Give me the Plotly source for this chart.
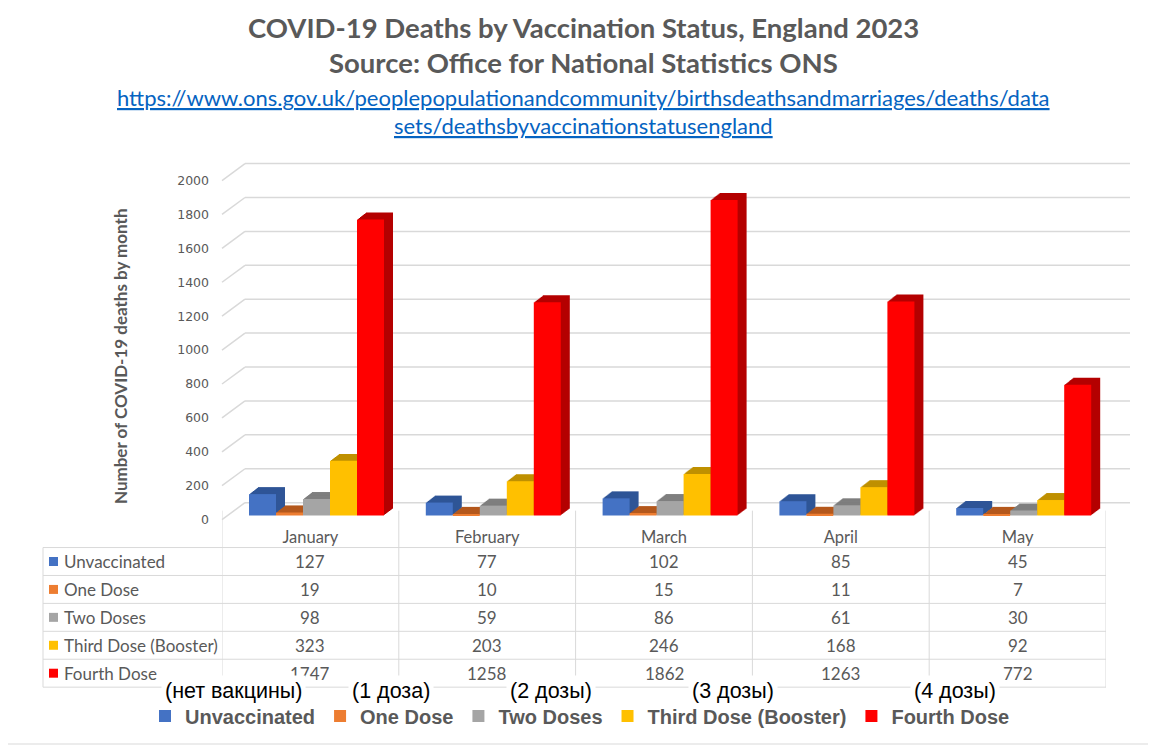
import plotly.graph_objects as go

# ---------------- data ----------------
months = ["January", "February", "March", "April", "May"]
series_names = ["Unvaccinated", "One Dose", "Two Doses", "Third Dose (Booster)", "Fourth Dose"]
unvaccinated = [127, 77, 102, 85, 45]
one_dose = [19, 10, 15, 11, 7]
two_doses = [98, 59, 86, 61, 30]
third_dose = [323, 203, 246, 168, 92]
fourth_dose = [1747, 1258, 1862, 1263, 772]
y_ticks = [0, 200, 400, 600, 800, 1000, 1200, 1400, 1600, 1800, 2000]
ru_labels = ["(нет вакцины)", "(1 доза)", "(2 дозы)", "(3 дозы)", "(4 дозы)"]

series_values = [unvaccinated, one_dose, two_doses, third_dose, fourth_dose]

# ---------------- styling ----------------
front_colors = ["#4472C4", "#ED7D31", "#A5A5A5", "#FFC000", "#FF0000"]
side_colors = ["#2F5597", "#B4581C", "#7F7F7F", "#BF9000", "#B40000"]
GRAY = "#595959"
GRID = "#D9D9D9"

# page body offset compensation (figure is drawn at 8,8 in the window)
OX, OY = 8, 8
FW, FH = 1156 - OX, 750 - OY
PLOT_L, PLOT_R = 222, 1106
Y0_PX = 521
PPU = 0.17                      # pixels per data unit (y)
Y_MIN, Y_MAX = -30, 2110
dom_bottom_px = Y0_PX - Y_MIN * PPU
dom_top_px = Y0_PX - Y_MAX * PPU
CAT_PX = (PLOT_R - PLOT_L) / len(months)
BAR_PX = 27
FRONT_LIFT_PX = 4
DEPTH_X_PX, DEPTH_Y_PX, LAYERS = 9, 7, 9
BACK_X0_PX, BACK_X1_PX, BACK_LIFT = 245, 1130, 100


def px_x(p):
    return (p - OX) / FW


def px_y(p):
    return 1 - (p - OY) / FH


fig = go.Figure()

for i, (name, vals) in enumerate(zip(series_names, series_values)):
    off0 = -0.5 + (BAR_PX + BAR_PX * i) / CAT_PX
    width = BAR_PX / CAT_PX
    base0 = FRONT_LIFT_PX / PPU
    for k in range(LAYERS, 0, -1):
        fig.add_trace(go.Bar(
            x=months, y=vals, width=width,
            offset=off0 + k * (DEPTH_X_PX / LAYERS) / CAT_PX,
            base=base0 + k * (DEPTH_Y_PX / LAYERS) / PPU,
            marker=dict(color=side_colors[i], line=dict(width=0)),
            showlegend=False, hoverinfo="skip",
        ))
    fig.add_trace(go.Bar(
        x=months, y=vals, width=width, offset=off0, base=base0,
        name=name, marker=dict(color=front_colors[i], line=dict(width=0)),
        hovertemplate="%{x}: %{y}<extra>" + name + "</extra>",
    ))

shapes = []
# 3D style gridlines (side wall diagonal + back wall line)
for v in y_ticks:
    shapes.append(dict(type="line", xref="paper", yref="y", layer="below",
                       x0=px_x(PLOT_L), x1=px_x(BACK_X0_PX), y0=v, y1=v + BACK_LIFT,
                       line=dict(color=GRID, width=1.5)))
    shapes.append(dict(type="line", xref="paper", yref="y", layer="below",
                       x0=px_x(BACK_X0_PX), x1=px_x(BACK_X1_PX), y0=v + BACK_LIFT, y1=v + BACK_LIFT,
                       line=dict(color=GRID, width=1.5)))

# data table grid
TAB_L = 43
row_lines = [549, 577, 605, 633, 661, 689]
for yy in row_lines:
    shapes.append(dict(type="line", xref="paper", yref="paper",
                       x0=px_x(TAB_L), x1=px_x(PLOT_R), y0=px_y(yy), y1=px_y(yy),
                       line=dict(color=GRID, width=1)))
shapes.append(dict(type="line", xref="paper", yref="paper",
                   x0=px_x(TAB_L), x1=px_x(TAB_L), y0=px_y(549), y1=px_y(689),
                   line=dict(color=GRID, width=1)))
for j in range(len(months) + 1):
    shapes.append(dict(type="line", xref="x", yref="paper",
                       x0=j - 0.5, x1=j - 0.5, y0=px_y(512), y1=px_y(689),
                       line=dict(color=GRID, width=1)))
# legend keys in table
row_centers = [563, 591, 619, 647, 675]
for i, c in enumerate(front_colors):
    shapes.append(dict(type="rect", xref="paper", yref="paper",
                       x0=px_x(49), x1=px_x(58), y0=px_y(row_centers[i] + 4.5), y1=px_y(row_centers[i] - 4.5),
                       fillcolor=c, line=dict(width=0)))
# outer bottom border
shapes.append(dict(type="line", xref="paper", yref="paper", x0=0, x1=1, y0=px_y(746), y1=px_y(746),
                   line=dict(color=GRID, width=1)))

annotations = []
TITLE_FONT = "Lato"


def ann(text, x, y, size, color, family=TITLE_FONT, **kw):
    d = dict(text=text, x=x, y=y, xref="paper", yref="paper", showarrow=False,
             xanchor="center", yanchor="middle",
             font=dict(family=family, size=size, color=color))
    d.update(kw)
    return d


annotations.append(ann("<b>COVID-19 Deaths by Vaccination Status, England 2023</b>",
                       px_x(583), px_y(28), 27.5, GRAY))
annotations.append(ann("<b>Source: Office for National Statistics ONS</b>",
                       px_x(583), px_y(63), 27.5, GRAY))
url1 = "https://www.ons.gov.uk/peoplepopulationandcommunity/birthsdeathsandmarriages/deaths/data"
url2 = "sets/deathsbyvaccinationstatusengland"
for txt, yy in [(url1, 98), (url2, 126)]:
    annotations.append(ann('<span style="text-decoration:underline">' + txt + '</span>',
                           px_x(583), px_y(yy), 22, "#0563C1"))

# y axis title
annotations.append(ann("<b>Number of COVID-19 deaths by month</b>", px_x(120), px_y(357), 17, GRAY,
                       textangle=-90))

# table row labels and values
for i, (name, vals) in enumerate(zip(series_names, series_values)):
    annotations.append(ann(name, px_x(62), px_y(row_centers[i]), 17, GRAY, xanchor="left"))
    for m, v in zip(months, vals):
        annotations.append(ann(str(v), m, px_y(row_centers[i]), 17, GRAY, xref="x"))

# Russian overlay labels
ru_pos = [233, 391, 551, 733, 955]
for txt, xx in zip(ru_labels, ru_pos):
    annotations.append(ann(txt, px_x(xx), px_y(693), 21.5, "black", family="Liberation Sans",
                           bgcolor="white", borderpad=3))

fig.update_layout(
    width=FW, height=FH,
    margin=dict(l=0, r=0, t=0, b=0),
    paper_bgcolor="white", plot_bgcolor="rgba(0,0,0,0)",
    barmode="overlay",
    xaxis=dict(type="category", domain=[px_x(PLOT_L), px_x(PLOT_R)], range=[-0.5, 4.5],
               showgrid=False, showline=False, zeroline=False, ticks="",
               tickfont=dict(family=TITLE_FONT, size=16.5, color=GRAY), ticklabelstandoff=1),
    yaxis=dict(domain=[px_y(dom_bottom_px), px_y(dom_top_px)], range=[Y_MIN, Y_MAX],
               tickvals=y_ticks, showgrid=False, showline=False, zeroline=False, ticks="",
               tickfont=dict(family="DejaVu Sans", size=12.5, color=GRAY), ticklabelstandoff=12),
    legend=dict(orientation="h", x=px_x(580), xanchor="center", y=px_y(718), yanchor="middle",
                font=dict(family="Liberation Sans", size=20, color=GRAY, weight="bold"),
                bgcolor="rgba(0,0,0,0)", traceorder="normal"),
    shapes=shapes, annotations=annotations,
)

fig.write_html("out.html")
